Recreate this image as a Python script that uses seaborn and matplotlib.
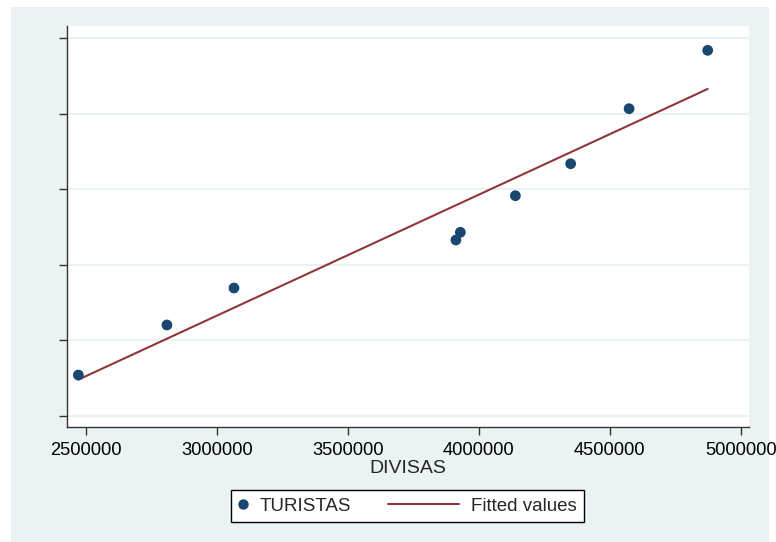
import numpy as np
import pandas as pd
import matplotlib
matplotlib.use("Agg")
import matplotlib.pyplot as plt
import matplotlib.patches as mpatches
from matplotlib.lines import Line2D
from matplotlib.legend_handler import HandlerLine2D
import seaborn as sns

# Data (y values in tick units; y-axis has no labels in the reference)
divisas = [2472000, 2810000, 3066000, 3913000, 3930000, 4140000, 4351000, 4574000, 4874000]
turistas = [0.542, 1.204, 1.693, 2.328, 2.430, 2.914, 3.337, 4.065, 4.837]
x_ticks = [2500000, 3000000, 3500000, 4000000, 4500000, 5000000]
x_tick_labels = ["2500000", "3000000", "3500000", "4000000", "4500000", "5000000"]
y_ticks = [0, 1, 2, 3, 4, 5]

df = pd.DataFrame({"DIVISAS": divisas, "TURISTAS": turistas})
slope, intercept = np.polyfit(df["DIVISAS"], df["TURISTAS"], 1)
df["Fitted values"] = intercept + slope * df["DIVISAS"]

sns.set_style("white")
plt.rcParams["font.family"] = ["Liberation Sans", "DejaVu Sans"]

W, H = 776, 542
fig = plt.figure(figsize=(W / 100, H / 100), dpi=100, facecolor="white")
bg = "#EAF2F3"
fig.patches.append(mpatches.Rectangle((11 / W, 0), (769 - 11) / W, (542 - 7) / H,
                                      transform=fig.transFigure, facecolor=bg,
                                      edgecolor="none", zorder=-10))

ax = fig.add_axes([67 / W, (H - 427) / H, (749 - 67) / W, (427 - 26) / H])
ax.set_facecolor("white")

sns.lineplot(data=df, x="DIVISAS", y="Fitted values", ax=ax, color="#90353B",
             lw=1.5, label="Fitted values", zorder=3)
sns.scatterplot(data=df, x="DIVISAS", y="TURISTAS", ax=ax, color="#1A476F",
                s=60, edgecolor="none", label="TURISTAS", zorder=4)

x0 = 2500000 - 18.7 / 262 * 1e6
x1 = 2500000 + (749 - 85.7) / 262 * 1e6
ax.set_xlim(x0, x1)
ax.set_ylim(-11 / 75.6, 5 + 12 / 75.6)

ax.set_xticks(x_ticks)
ax.set_xticklabels(x_tick_labels, fontsize=13.2)
ax.set_yticks(y_ticks)
ax.set_yticklabels([])
ax.grid(axis="y", color=bg, lw=1.5)
ax.grid(axis="x", visible=False)
ax.set_axisbelow(True)

for s in ["top", "right"]:
    ax.spines[s].set_visible(False)
for s in ["left", "bottom"]:
    ax.spines[s].set_color("#333333")
    ax.spines[s].set_linewidth(1.0)
ax.tick_params(axis="both", direction="out", length=5.5, width=1, color="#333333",
               labelcolor="black", bottom=True, left=True, pad=5.5)

ax.set_xlabel("DIVISAS", fontsize=14, labelpad=0.5)
ax.set_ylabel("")


class LongLineHandler(HandlerLine2D):
    def create_artists(self, legend, orig_handle, xdescent, ydescent, width,
                       height, fontsize, trans):
        y = (height - ydescent) / 2
        line = Line2D([-xdescent + width - 3.8 * fontsize, -xdescent + width], [y, y])
        self.update_prop(line, orig_handle, legend)
        line.set_transform(trans)
        return [line]


ax.legend_.remove()
h_pt = Line2D([], [], marker="o", ls="none", color="#1A476F", markersize=7.5,
              markeredgewidth=0)
h_ln = Line2D([], [], color="#90353B", lw=1.5)
leg = fig.legend([h_pt, h_ln], ["TURISTAS", "Fitted values"],
                 handler_map={h_ln: LongLineHandler()},
                 loc="center", bbox_to_anchor=(407.5 / W, 1 - 506 / H), ncol=2,
                 fontsize=13.5, frameon=True, fancybox=False, edgecolor="black",
                 facecolor="white", framealpha=1, columnspacing=5.26,
                 handlelength=0.5, handletextpad=0.64, borderpad=0.4)
leg.get_frame().set_linewidth(1.0)

fig.savefig("out.png", dpi=100, facecolor="white")
